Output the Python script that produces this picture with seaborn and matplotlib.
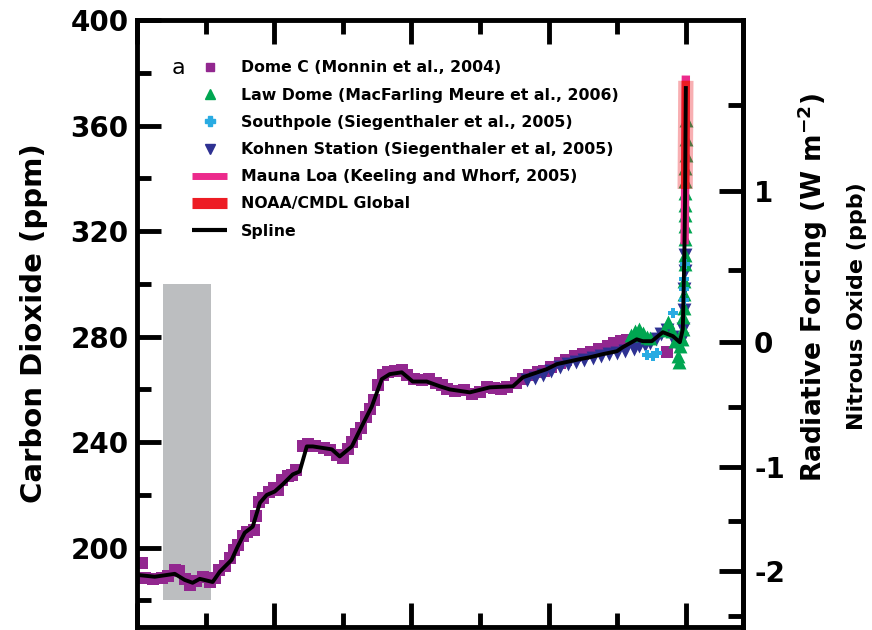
import numpy as np
import pandas as pd
import matplotlib
matplotlib.use("Agg")
import matplotlib.pyplot as plt
from matplotlib.lines import Line2D
import seaborn as sns

# --- data: time in years before 2005, CO2 in ppm ---
domec_t = [19820, 19700, 19400, 19100, 18850, 18620, 18450, 18260, 18050, 17850,
           17600, 17350, 17150, 17000, 16800, 16600, 16450, 16300, 16150, 16000,
           15750, 15650, 15550, 15400, 15200, 15000, 14850, 14700, 14500, 14350,
           14200, 13950, 13750, 13500, 13200, 12950, 12700, 12500, 12300, 12150,
           12000, 11850, 11650, 11500, 11350, 11200, 11050, 10850, 10600, 10350,
           10150, 9900, 9600, 9350, 9100, 8900, 8700, 8400, 8100, 7800,
           7500, 7250, 7000, 6750, 6500, 6200, 5950, 5700, 5400, 5150,
           4900, 4600, 4350, 4050, 3750, 3450, 3150, 2850, 2600, 2350,
           2150, 1900, 700]
domec_co2 = [194.3, 188.6, 188.0, 188.5, 189.3, 191.5, 191.0, 188.0, 186.0, 187.5,
             189.0, 187.0, 188.5, 191.5, 193.0, 196.0, 199.0, 201.0, 204.5, 206.0,
             206.8, 212.0, 217.5, 219.0, 221.0, 222.5, 222.0, 225.5, 227.0, 227.5,
             229.5, 238.5, 239.5, 238.5, 237.8, 237.0, 235.0, 234.0, 237.5, 240.0,
             243.0, 245.5, 249.5, 252.5, 256.0, 261.5, 265.5, 266.5, 267.0, 267.2,
             265.5, 264.0, 263.5, 263.8, 262.3, 261.5, 260.0, 259.5, 259.8, 258.3,
             259.2, 261.0, 260.5, 260.2, 261.0, 262.3, 264.0, 265.5, 266.5, 267.0,
             268.5, 270.0, 271.3, 272.6, 273.5, 274.2, 275.5, 276.3, 277.5, 278.5,
             278.8, 278.5, 274.2]

lawdome_t = [2000, 1850, 1700, 1550, 1400, 1300, 800, 650, 500, 380,
             300, 250, 200, 150, 120, 95, 80, 65, 55, 45,
             38, 32, 28, 25, 22, 19, 16, 13, 10, 7, 4]
lawdome_co2 = [280.5, 282.0, 283.0, 281.5, 280.0, 279.5, 282.5, 285.5, 282.0, 278.5,
               272.5, 270.5, 276.5, 279.0, 283.0, 287.5, 291.0, 296.0, 301.0, 307.5,
               311.0, 317.0, 322.0, 326.0, 330.0, 334.5, 339.0, 344.0, 349.0, 355.0, 362.0]

southpole_t = [1400, 1200, 1050, 470, 70, 60, 50, 40]
southpole_co2 = [273.0, 272.5, 274.0, 289.0, 294.0, 298.0, 302.0, 307.6]

kohnen_t = [5800, 5500, 5200, 4900, 4600, 4300, 4000, 3700, 3400, 3100,
            2800, 2500, 2200, 1900, 1700, 1500, 1300, 1100, 900, 700,
            500, 350, 250, 150, 100, 70, 50, 40, 30]
kohnen_co2 = [263.5, 264.5, 265.5, 267.0, 268.5, 269.5, 270.5, 271.0, 271.8, 272.5,
              273.5, 274.0, 274.5, 275.5, 276.5, 277.0, 277.5, 279.0, 281.0, 282.5,
              280.0, 277.5, 276.0, 279.0, 283.0, 290.0, 298.0, 305.0, 311.0]

maunaloa_t = [47, 40, 30, 20, 10, 0]
maunaloa_co2 = [315.0, 320.0, 331.0, 346.0, 361.0, 379.0]

noaa_t = [26, 20, 15, 10, 5, 0]
noaa_co2 = [336.0, 345.0, 353.0, 359.0, 368.0, 377.0]

spline_t = [20000, 19350, 18620, 18260, 17970, 17710, 17240, 16980, 16550, 16330,
            16070, 15780, 15520, 15270, 14980, 14690, 14320, 14070, 13810, 13590,
            12900, 12610, 12170, 11810, 11440, 11080, 10790, 10350, 9950, 9440,
            8965, 8600, 7870, 7140, 6300, 5940, 5070, 4700, 3860, 3500,
            3020, 2510, 2300, 1790, 1570, 1240, 840, 470, 220, 110,
            55, 30, 15, 0]
spline_co2 = [189.7, 189.0, 190.1, 187.8, 186.7, 188.2, 187.0, 190.9, 195.4, 200.4,
              205.7, 208.0, 217.0, 220.0, 221.3, 224.0, 227.8, 228.9, 238.4, 238.4,
              237.3, 234.6, 238.4, 246.0, 253.6, 263.9, 265.8, 266.5, 263.0, 263.0,
              261.2, 260.0, 258.9, 260.8, 261.2, 264.6, 267.7, 269.6, 271.5, 272.2,
              273.4, 274.5, 276.0, 279.0, 278.3, 278.3, 281.7, 280.2, 277.9, 282.9,
              311.0, 331.0, 354.0, 375.0]

# grey bar: range of natural variability
bar_t = [19050, 17300]
bar_co2 = [180, 300]

co2_major = [200, 240, 280, 320, 360, 400]
co2_minor = [180, 220, 260, 300, 340, 380]
rf_major = [-2, -1, 0, 1]
rf_labels = ["-2", "-1", "0", "1"]
rf_minor = [-2.5, -1.5, -0.5, 0.5, 1.5]
time_major = [20000, 15000, 10000, 5000, 0]
time_minor = [17500, 12500, 7500, 2500]

legend_labels = ["Dome C (Monnin et al., 2004)",
                 "Law Dome (MacFarling Meure et al., 2006)",
                 "Southpole (Siegenthaler et al., 2005)",
                 "Kohnen Station (Siegenthaler et al, 2005)",
                 "Mauna Loa (Keeling and Whorf, 2005)",
                 "NOAA/CMDL Global",
                 "Spline"]

PURPLE = "#92278f"
GREEN = "#00a651"
LIGHTBLUE = "#29abe2"
NAVY = "#2e3192"
MAGENTA = "#ec2a8c"
RED = "#ed1c24"

sns.set_style("ticks")
plt.rcParams["font.family"] = ["DejaVu Sans"]
plt.rcParams["font.weight"] = "bold"
plt.rcParams["axes.unicode_minus"] = False
plt.rcParams["mathtext.default"] = "bf"
plt.rcParams["text.color"] = "black"
plt.rcParams["axes.edgecolor"] = "black"
plt.rcParams["xtick.color"] = "black"
plt.rcParams["ytick.color"] = "black"
plt.rcParams["lines.solid_capstyle"] = "butt"


def ppm_to_rf(c):
    return 5.35 * np.log(np.clip(c, 1e-6, None) / 278.0)


def rf_to_ppm(f):
    return 278.0 * np.exp(np.asarray(f) / 5.35)


fig = plt.figure(figsize=(8.72, 6.30), dpi=100)
ax = fig.add_axes([0.157, 0.005, 0.695, 0.963])

ax.fill_between(bar_t, bar_co2[0], bar_co2[1], color="#bcbec0", lw=0, zorder=1)

sns.scatterplot(x=domec_t, y=domec_co2, marker="s", s=80, color=PURPLE,
                linewidth=0, ax=ax, zorder=2)
sns.scatterplot(x=kohnen_t, y=kohnen_co2, marker="v", s=100, color=NAVY,
                linewidth=0, ax=ax, zorder=3)
sns.scatterplot(x=lawdome_t, y=lawdome_co2, marker="^", s=100, color=GREEN,
                linewidth=0, ax=ax, zorder=3)
sns.scatterplot(x=southpole_t, y=southpole_co2, marker="P", s=60, color=LIGHTBLUE,
                linewidth=0, ax=ax, zorder=3)

sns.lineplot(x=maunaloa_t, y=maunaloa_co2, color=MAGENTA, lw=6, estimator=None,
             sort=False, ax=ax, zorder=4)
sns.lineplot(x=noaa_t, y=noaa_co2, color=RED, lw=11, alpha=0.35, estimator=None,
             sort=False, ax=ax, zorder=5)
sns.lineplot(x=noaa_t, y=noaa_co2, color=RED, lw=6, estimator=None,
             sort=False, ax=ax, zorder=5)
sns.lineplot(x=spline_t, y=spline_co2, color="black", lw=2.8, estimator=None,
             sort=False, ax=ax, zorder=6)

ax.set_xlim(20000, -2080)
ax.set_ylim(170, 400)
ax.set_xticks(time_major)
ax.set_xticks(time_minor, minor=True)
ax.set_yticks(co2_major)
ax.set_yticks(co2_minor, minor=True)
ax.set_xlabel("")
ax.set_ylabel("")

for sp in ax.spines.values():
    sp.set_linewidth(3.5)
    sp.set_color("black")
ax.tick_params(axis="both", which="both", direction="in", width=3.5,
               top=True, right=False, labelbottom=False, colors="black")
ax.tick_params(axis="both", which="major", length=17, labelsize=20, pad=6)
ax.tick_params(axis="both", which="minor", length=10)

sec = ax.secondary_yaxis("right", functions=(ppm_to_rf, rf_to_ppm))
sec.set_yticks(rf_major, labels=rf_labels)
sec.set_yticks(rf_minor, minor=True)
sec.spines["right"].set_linewidth(3.5)
sec.spines["right"].set_color("black")
sec.tick_params(which="both", direction="in", width=3.5, colors="black")
sec.tick_params(which="major", length=17, labelsize=20, pad=8)
sec.tick_params(which="minor", length=11)

fig.text(34 / 872, 1 - 323 / 630, "Carbon Dioxide (ppm)", rotation=90,
         ha="center", va="center", fontsize=21, weight="bold")
fig.text(813 / 872, 1 - 287 / 630, r"Radiative Forcing (W m$^{-2}$)", rotation=90,
         ha="center", va="center", fontsize=19, weight="bold")
fig.text(857 / 872, 1 - 306 / 630, "Nitrous Oxide (ppb)", rotation=90,
         ha="center", va="center", fontsize=16, weight="bold")
fig.text(178 / 872, 1 - 68 / 630, "a", ha="center", va="center",
         fontsize=16, weight="normal")

handles = [
    Line2D([], [], ls="", marker="s", ms=6, color=PURPLE),
    Line2D([], [], ls="", marker="^", ms=7, color=GREEN),
    Line2D([], [], ls="", marker="P", ms=7, color=LIGHTBLUE),
    Line2D([], [], ls="", marker="v", ms=7, color=NAVY),
    Line2D([], [], color=MAGENTA, lw=5),
    Line2D([], [], color=RED, lw=8),
    Line2D([], [], color="black", lw=3),
]
ax.legend(handles, legend_labels, loc="upper left", frameon=False,
          bbox_to_anchor=(186 / 872, 1 - 54 / 630), bbox_transform=fig.transFigure,
          borderaxespad=0, handlelength=2.2, handletextpad=0.9, labelspacing=0.78,
          prop={"size": 11.3, "weight": "bold"})

fig.savefig("out.png", dpi=100)
